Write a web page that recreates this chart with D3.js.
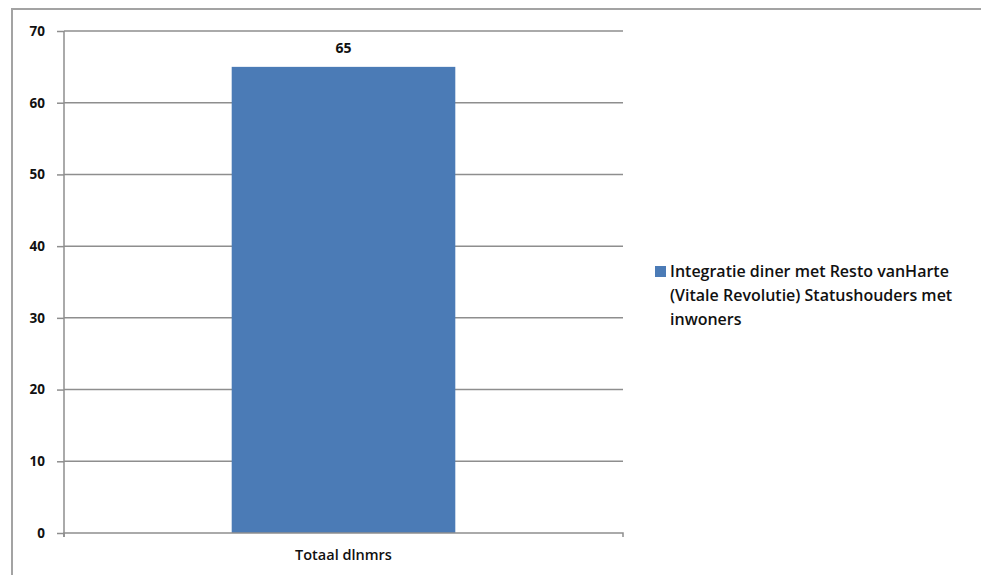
<!DOCTYPE html>
<html><head><meta charset="utf-8">
<script src="https://cdn.jsdelivr.net/npm/d3@7"></script>
<style>body{margin:0;background:#fff}svg{display:block}</style>
</head><body>
<script>
const categories = ["Totaal dlnmrs"];
const seriesName = "Integratie diner met Resto vanHarte (Vitale Revolutie) Statushouders met inwoners";
const legendLines = ["Integratie diner met Resto vanHarte", "(Vitale Revolutie) Statushouders met", "inwoners"];
const values = [65];
const yTicks = [0, 10, 20, 30, 40, 50, 60, 70];

const W = 981, H = 575;
const svg = d3.select("body").append("svg").attr("width", W).attr("height", H);
const font = "'Open Sans', sans-serif";

// outer frame
svg.append("rect").attr("x", 12).attr("y", 9).attr("width", 1000).attr("height", 600)
  .attr("fill", "#fff").attr("stroke", "#a3a3a3").attr("stroke-width", 2);

const m = {left: 64, right: 623, top: 31, bottom: 533};
const x = d3.scaleBand().domain(categories).range([m.left, m.right]).paddingInner(0.6).paddingOuter(0.3);
const y = d3.scaleLinear().domain([0, 70]).range([m.bottom, m.top]);

// gridlines
svg.append("g").selectAll("line").data(yTicks.filter(d => d > 0)).join("line")
  .attr("x1", m.left).attr("x2", m.right).attr("y1", d => y(d)).attr("y2", d => y(d))
  .attr("stroke", "#8e8e8e").attr("stroke-width", 1.5);

// bars
svg.append("g").selectAll("rect").data(values).join("rect")
  .attr("x", (d, i) => x(categories[i])).attr("width", x.bandwidth())
  .attr("y", d => y(d)).attr("height", d => y(0) - y(d))
  .attr("fill", "#4b7bb6");

// value labels
svg.append("g").selectAll("text").data(values).join("text")
  .attr("x", (d, i) => x(categories[i]) + x.bandwidth() / 2).attr("y", d => y(d) - 14)
  .attr("text-anchor", "middle").attr("font-family", font).attr("font-weight", 700)
  .attr("font-size", 14).attr("fill", "#111").text(d => d);

// y axis
const yAxis = d3.axisLeft(y).tickValues(yTicks).tickSize(7).tickPadding(12);
const gy = svg.append("g").attr("transform", `translate(${m.left},0)`).call(yAxis);
gy.select(".domain").attr("stroke", "#8e8e8e").attr("stroke-width", 1.5).attr("d", `M0,${m.top}V${m.bottom + 4}`);
gy.selectAll(".tick line").attr("stroke", "#8e8e8e").attr("stroke-width", 1.5);
gy.selectAll(".tick text").attr("font-family", font).attr("font-weight", 700).attr("font-size", 13.5).attr("fill", "#111");

// x axis
const xAxis = d3.axisBottom(x).tickSize(0).tickPadding(17);
const gx = svg.append("g").attr("transform", `translate(0,${m.bottom})`).call(xAxis);
gx.select(".domain").attr("stroke", "#8e8e8e").attr("stroke-width", 1.5)
  .attr("d", `M${m.left},4V0H${m.right}V4`);
gx.selectAll(".tick text").attr("font-family", font).attr("font-weight", 600).attr("font-size", 14.5).attr("fill", "#111");

// legend
const lg = svg.append("g").attr("transform", "translate(655,266)");
lg.append("rect").attr("width", 11).attr("height", 11).attr("fill", "#4b7bb6");
lg.append("text").attr("font-family", font).attr("font-weight", 600).attr("font-size", 16).attr("fill", "#111")
  .selectAll("tspan").data(legendLines).join("tspan")
  .attr("x", 15).attr("y", (d, i) => 11 + i * 24).text(d => d);
</script>
</body></html>
